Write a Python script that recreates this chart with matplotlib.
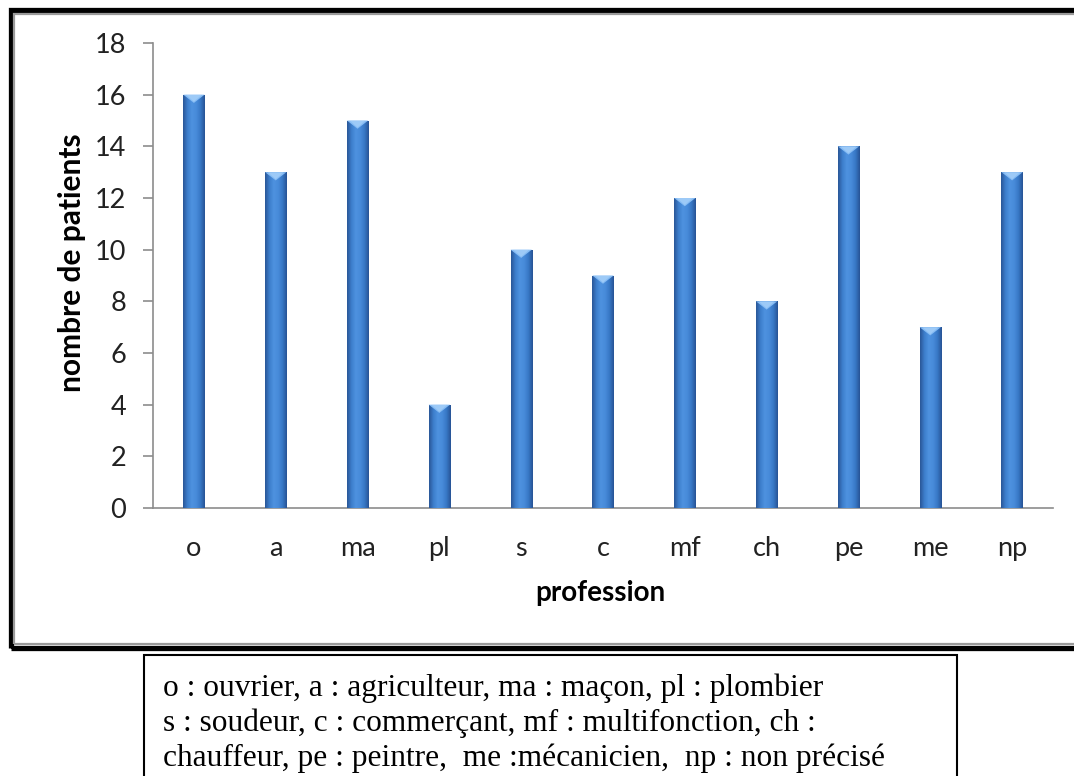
import numpy as np
import matplotlib
matplotlib.use("Agg")
import matplotlib.pyplot as plt
from matplotlib.colors import LinearSegmentedColormap
from matplotlib.patches import Rectangle

# data
professions = ['o', 'a', 'ma', 'pl', 's', 'c', 'mf', 'ch', 'pe', 'me', 'np']
patients = [16, 13, 15, 4, 10, 9, 12, 8, 14, 7, 13]
yticks = [0, 2, 4, 6, 8, 10, 12, 14, 16, 18]
legend_lines = [
    "o : ouvrier, a : agriculteur, ma : maçon, pl : plombier",
    "s : soudeur, c : commerçant, mf : multifonction, ch :",
    "chauffeur, pe : peintre,  me :mécanicien,  np : non précisé",
]

plt.rcParams['font.family'] = ['Lato', 'DejaVu Sans']

fig = plt.figure(figsize=(10.74, 7.76), dpi=100)
W, H = 1074, 776
ax = fig.add_axes([153 / W, 1 - 508 / H, 900 / W, 465 / H])

x = np.arange(len(professions))
bars = ax.bar(x, patients, width=0.26, color='#3a78c4', zorder=2)

# bevel-like horizontal gradient on each bar
cmap = LinearSegmentedColormap.from_list(
    'bevel', ['#2a5798', '#3d7ecc', '#4e92df', '#488bda', '#3878c6', '#275496'])
grad = np.linspace(0, 1, 64).reshape(1, -1)
cap = 0.32
for b in bars:
    x0, w, h = b.get_x(), b.get_width(), b.get_height()
    im = ax.imshow(grad, cmap=cmap, extent=(x0, x0 + w, 0, h),
                   aspect='auto', zorder=3)
    im.set_clip_path(b)
    ax.fill([x0, x0 + w, x0 + w / 2], [h, h, h - cap],
            color='#86bcf4', zorder=4, lw=0)
    ax.fill([x0, x0 + w * 0.12, x0 + w * 0.5, x0 + w * 0.88, x0 + w],
            [h, h, h - cap * 0.85, h, h], color='#b4d8fb', zorder=4, lw=0, alpha=0.5)

ax.set_xlim(-0.5, len(professions) - 0.5)
ax.set_ylim(0, 18)
ax.set_yticks(yticks)
ax.set_xticks(x)
ax.set_xticklabels(professions)

for s in ['top', 'right']:
    ax.spines[s].set_visible(False)
for s in ['left', 'bottom']:
    ax.spines[s].set_color('#8c8c8c')
    ax.spines[s].set_linewidth(1.2)
ax.tick_params(axis='y', length=7.2, color='#8c8c8c', width=1.2,
               labelsize=19.5, pad=12, labelcolor='#222222')
ax.tick_params(axis='x', length=0, labelsize=19.5, pad=20, labelcolor='#222222')

ax.set_xlabel('profession', fontsize=20, fontweight='bold')
ax.set_ylabel('nombre de patients', fontsize=21.5, fontweight='bold')
ax.xaxis.set_label_coords(0.497, -0.183)
ax.yaxis.set_label_coords(-0.09, 0.527)
ax.xaxis.label.set_va('center')
ax.yaxis.label.set_va('center')

# chart frame (black border with grey inner line)
fig.patches.append(Rectangle((10.5 / W, 1 - 647.5 / H), 1080 / W, 638 / H,
                             transform=fig.transFigure, fill=False,
                             ec='black', lw=3.8, zorder=10))
fig.patches.append(Rectangle((14 / W, 1 - 643.5 / H), 1080 / W, 630 / H,
                             transform=fig.transFigure, fill=False,
                             ec='#9a9a9a', lw=1.6, zorder=10))

# legend text box
fig.patches.append(Rectangle((144 / W, -0.05), 813 / W, (1 - 655 / H) + 0.05,
                             transform=fig.transFigure, fill=False,
                             ec='black', lw=1.5, zorder=10))
for i, line in enumerate(legend_lines):
    fig.text(163 / W, 1 - (688 + 35 * i) / H, line, ha='left', va='center',
             fontsize=22.6, family=['Liberation Serif', 'DejaVu Serif'])

fig.savefig('out.png', dpi=100)
